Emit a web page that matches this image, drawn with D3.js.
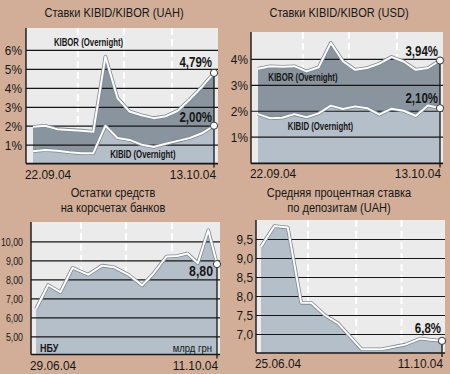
<!DOCTYPE html>
<html><head><meta charset="utf-8">
<script src="https://cdn.jsdelivr.net/npm/d3@7"></script>
<style>
html,body{margin:0;padding:0;background:#d2ae98;}
svg{display:block;}
</style></head>
<body>
<script>
// ---------- DATA ----------
const uahDates = ["22.09.04","23.09.04","24.09.04","27.09.04","28.09.04","29.09.04","30.09.04","01.10.04",
                  "04.10.04","05.10.04","06.10.04","07.10.04","08.10.04","11.10.04","12.10.04","13.10.04"];
const uahKibor = [1.95,2.0,1.82,1.78,1.74,1.68,5.65,3.46,2.75,2.55,2.40,2.5,2.79,3.4,4.05,4.79];
const uahKibid = [0.65,0.72,0.68,0.6,0.55,0.55,2.0,1.35,1.25,1.0,0.88,1.05,1.2,1.35,1.6,2.0];

const usdDates = uahDates;
const usdKibor = [3.62,3.72,3.70,3.72,3.52,3.68,4.62,3.91,3.58,3.65,3.82,4.08,3.9,3.58,3.65,3.94];
const usdKibid = [1.87,1.71,1.73,1.87,1.75,1.9,2.2,2.07,2.17,2.1,1.85,2.08,2.0,1.8,2.2,2.10];

const balDates = ["29.06.04","06.07.04","13.07.04","20.07.04","29.07.04","06.08.04","13.08.04","21.08.04",
                  "29.08.04","04.09.04","12.09.04","18.09.04","24.09.04","30.09.04","06.10.04","11.10.04"];
const balValues = [6.44,7.7,7.32,8.6,8.25,8.72,8.63,8.25,7.68,8.25,9.2,9.23,9.36,8.85,10.58,8.80];

const depDates = ["25.06.04","03.07.04","11.07.04","19.07.04","25.07.04","02.08.04","10.08.04",
                  "24.08.04","05.09.04","19.09.04","28.09.04","04.10.04","11.10.04"];
const depValues = [9.3,9.84,9.8,7.82,7.82,7.5,7.28,6.6,6.6,6.72,6.88,6.85,6.82];

const uahTicks = [1,2,3,4,5,6];
const usdTicks = [1,2,3,4];
const balTicks = [5,6,7,8,9,10];
const depTicks = [7.0,7.5,8.0,8.5,9.0,9.5];

// ---------- STYLE ----------
const FONT = "'Liberation Sans',Arial,sans-serif";
const DARK = "#89949e", LIGHT = "#b5bfca", PLOTBG = "#ebebeb", INK = "#161616";
const SX = 0.82; // horizontal condensing for the narrow typeface

const W = 450, H = 374;
const svg = d3.select("body").append("svg").attr("width", W).attr("height", H);
svg.append("rect").attr("width", W).attr("height", H).attr("fill", "#d2ae98");

const parse = d3.timeParse("%d.%m.%y");
const fmtComma = d => d3.format(".2f")(d).replace(".", ",");

function ntext(g, x, y, str, o) {
  return g.append("text")
    .attr("transform", `translate(${x},${y}) scale(${o.sx || SX},1)`)
    .attr("text-anchor", o.anchor || "start").attr("fill", INK)
    .style("font-family", FONT).style("font-size", o.size + "px")
    .style("font-weight", o.weight || "normal").text(str);
}

function drawPanel(p) {
  const g = svg.append("g");
  const x = p.x, y = p.y;
  const xs = p.dates;
  const xAt = t => {
    const i = Math.min(Math.floor(t), xs.length - 2), f = t - i;
    return x(xs[i]) + f * (x(xs[i + 1]) - x(xs[i]));
  };

  g.append("rect").attr("x", p.left).attr("y", p.top)
    .attr("width", p.right - p.left).attr("height", p.bottom - p.top).attr("fill", PLOTBG);

  p.vgrid.forEach(f => {
    const xx = p.left + f * (p.right - p.left);
    g.append("line").attr("x1", xx).attr("x2", xx).attr("y1", p.top).attr("y2", p.bottom)
      .attr("stroke", "#fff").attr("stroke-width", 2).attr("stroke-dasharray", "7,4");
  });

  p.series.forEach(s => {
    const area = d3.area().x((d, i) => x(xs[i])).y0(y(p.yMin)).y1(d => y(d));
    g.append("path").datum(s.values).attr("d", area).attr("fill", s.fill);
  });

  const ax = d3.axisLeft(y).tickValues(p.ticks).tickFormat(p.tickFmt)
    .tickSize(-(p.right - p.left)).tickSizeOuter(0).tickPadding(0);
  const ag = g.append("g").attr("transform", `translate(${p.left},0)`).call(ax);
  ag.select(".domain").remove();
  ag.selectAll(".tick line").attr("stroke", INK).attr("stroke-width", 1.2);
  ag.selectAll(".tick text").attr("fill", INK).attr("x", null).attr("dy", "0.35em")
    .attr("transform", `translate(${-p.tickPad},0) scale(${p.tickSX},1)`)
    .style("font-family", FONT).style("font-size", p.tickSize + "px");

  p.series.forEach(s => {
    const line = d3.line().x((d, i) => x(xs[i])).y(d => y(d));
    g.append("path").datum(s.values).attr("d", line).attr("fill", "none")
      .attr("stroke", "#7f8a94").attr("stroke-width", 3.6).attr("stroke-linejoin", "round");
    g.append("path").datum(s.values).attr("d", line).attr("fill", "none")
      .attr("stroke", "#fff").attr("stroke-width", 2).attr("stroke-linejoin", "round");
  });

  g.append("line").attr("x1", p.left).attr("x2", p.left).attr("y1", p.top).attr("y2", p.bottom)
    .attr("stroke", INK).attr("stroke-width", 1.4);
  g.append("line").attr("x1", p.left).attr("x2", p.right).attr("y1", p.bottom).attr("y2", p.bottom)
    .attr("stroke", INK).attr("stroke-width", 1.6);

  const last = xs.length - 1;
  const topLast = d3.max(p.series, s => s.values[last]);
  g.append("line").attr("x1", x(xs[last])).attr("x2", x(xs[last]))
    .attr("y1", y(topLast)).attr("y2", p.bottom + 4)
    .attr("stroke", INK).attr("stroke-width", 1.3);

  const df = p.dateFmt;
  ntext(g, p.left - 1, p.bottom + 15, df(xs[0]), { size: 12.5, sx: 0.95 });
  ntext(g, p.right - 2, p.bottom + 15, df(xs[last]), { size: 12.5, sx: 0.95, anchor: "end" });

  p.series.forEach(s => {
    const v = s.values[last];
    g.append("circle").attr("cx", x(xs[last])).attr("cy", y(v)).attr("r", 3.6)
      .attr("fill", "#fff").attr("stroke", "#333").attr("stroke-width", 1);
    ntext(g, x(xs[last]) + s.lblDx, y(v) + s.lblDy, s.lblFmt(v),
      { size: s.lblSize, weight: "bold", anchor: "end" });
    if (s.name) {
      ntext(g, xAt(s.nameAt[0]), y(s.nameAt[1]), s.name,
        { size: 10, weight: "bold", anchor: "middle", sx: 0.78 });
    }
  });

  p.title.forEach((t, i) => {
    ntext(g, p.titleX, p.titleY + i * 15, t, { size: 13.5, anchor: "middle", sx: 0.82 });
  });
  return g;
}

// Panel 1: KIBID/KIBOR UAH
{
  const x = d3.scalePoint().domain(uahDates).range([33, 214]);
  const y = d3.scaleLinear().domain([0, 7.16]).range([163.6, 28]);
  drawPanel({
    left: 26, right: 218, top: 28, bottom: 163.6, x, y, yMin: 0, dates: uahDates,
    vgrid: [0.27, 0.51, 0.76], ticks: uahTicks, tickFmt: d => d + "%", tickPad: 4,
    tickSize: 12.5, tickSX: 0.95, dateFmt: d => d,
    series: [
      { values: uahKibor, fill: DARK, lblDx: -2, lblDy: -6, lblSize: 14,
        lblFmt: d => fmtComma(d) + "%", name: "KIBOR (Overnight)", nameAt: [4.6, 6.22] },
      { values: uahKibid, fill: LIGHT, lblDx: -2, lblDy: -4, lblSize: 14,
        lblFmt: d => fmtComma(d) + "%", name: "KIBID (Overnight)", nameAt: [9.1, 0.28] }
    ],
    title: ["Ставки KIBID/KIBOR (UAH)"], titleX: 114, titleY: 17
  });
}

// Panel 2: KIBID/KIBOR USD
{
  const x = d3.scalePoint().domain(usdDates).range([258, 440]);
  const y = d3.scaleLinear().domain([0, 5.04]).range([162.6, 32]);
  drawPanel({
    left: 251, right: 443, top: 32, bottom: 163.4, x, y, yMin: 0, dates: usdDates,
    vgrid: [0.27, 0.51, 0.76], ticks: usdTicks, tickFmt: d => d + "%", tickPad: 3,
    tickSize: 12.5, tickSX: 0.95, dateFmt: d => d,
    series: [
      { values: usdKibor, fill: DARK, lblDx: -2, lblDy: -4.5, lblSize: 14,
        lblFmt: d => fmtComma(d) + "%", name: "KIBOR (Overnight)", nameAt: [3.7, 3.13] },
      { values: usdKibid, fill: LIGHT, lblDx: -2, lblDy: -5, lblSize: 14,
        lblFmt: d => fmtComma(d) + "%", name: "KIBID (Overnight)", nameAt: [5.15, 1.24] }
    ],
    title: ["Ставки KIBID/KIBOR (USD)"], titleX: 339, titleY: 17
  });
}

// Panel 3: balances
{
  const dts = balDates.map(parse);
  const x = d3.scaleTime().domain(d3.extent(dts)).range([36, 217]);
  const y = d3.scaleLinear().domain([4, 11]).range([355.3, 222.3]);
  const g = drawPanel({
    left: 31, right: 220, top: 222, bottom: 354.5, x, y, yMin: 4, dates: dts,
    vgrid: [0.265, 0.503, 0.746], ticks: balTicks, tickFmt: d => fmtComma(d), tickPad: 8,
    tickSize: 11, tickSX: 0.8, dateFmt: d3.timeFormat("%d.%m.%y"),
    series: [
      { values: balValues, fill: LIGHT, lblDx: -4, lblDy: 12, lblSize: 15,
        lblFmt: d => fmtComma(d) }
    ],
    title: ["Остатки средств", "на корсчетах банков"], titleX: 113, titleY: 196.5
  });
  ntext(g, 40, 352, "НБУ", { size: 11, weight: "bold" });
  ntext(g, 212, 352, "млрд грн", { size: 10, anchor: "end", sx: 0.95 });
}

// Panel 4: deposit rate
{
  const dts = depDates.map(parse);
  const x = d3.scaleTime().domain(d3.extent(dts)).range([261, 442]);
  const y = d3.scaleLinear().domain([6.5, 10]).range([353, 220]);
  drawPanel({
    left: 256, right: 445, top: 220, bottom: 353, x, y, yMin: 6.5, dates: dts,
    vgrid: [0.275, 0.53, 0.77], ticks: depTicks, tickFmt: d => d3.format(".1f")(d).replace(".", ","), tickPad: 3,
    tickSize: 12.5, tickSX: 0.95, dateFmt: d3.timeFormat("%d.%m.%y"),
    series: [
      { values: depValues, fill: LIGHT, lblDx: -1, lblDy: -8, lblSize: 14,
        lblFmt: d => d3.format(".1f")(d).replace(".", ",") + "%" }
    ],
    title: ["Средняя процентная ставка", "по депозитам (UAH)"], titleX: 339, titleY: 196.5
  });
}
</script>
</body></html>
